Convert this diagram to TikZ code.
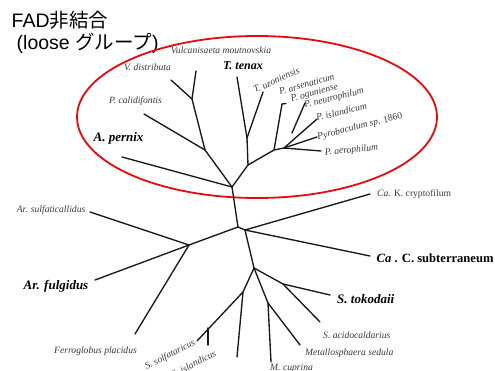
\documentclass[tikz,border=0pt]{standalone}
\usepackage{fontspec}
\setmainfont{Liberation Serif}
\newfontfamily\titlefont{Liberation Sans}
\newfontfamily\jpfont{Noto Sans CJK JP}
\definecolor{labgray}{RGB}{55,55,70}
\definecolor{ovalred}{RGB}{230,10,10}
\tikzset{
  br/.style={line width=1.35pt, black!90, line cap=round},
  sm/.style={font=\fontsize{9.6}{11}\selectfont\itshape, text=labgray, inner sep=0pt},
  big/.style={font=\fontsize{13}{15}\selectfont\bfseries\itshape, text=black, inner sep=0pt},
  ttl/.style={font=\titlefont\fontsize{19.5}{22}\selectfont, inner sep=0pt, anchor=base west},
}
\begin{document}
\begin{tikzpicture}[x=1pt,y=-1pt]
\useasboundingbox (0,0) rectangle (495,371);
\clip (0,0) rectangle (495,371);

% title
\node[ttl] (t1) at (11.5,27.3) {FAD{\jpfont 非結合}};
\node[ttl] (t2) at (16.5,50) {(loose {\jpfont グループ})};

% oval
\draw[ovalred, line width=1.8pt] (257,117) ellipse [x radius=180, y radius=81];

% ---------- coordinates: upper clade
\coordinate (R1) at (232,187);
\coordinate (N1) at (205,150);
\coordinate (eCal) at (144,114);
\coordinate (N2) at (192,99);
\coordinate (eVdis) at (171,80);
\coordinate (eVmou) at (196,71);
\coordinate (ePer) at (122,157);
\coordinate (N3) at (248,165);
\coordinate (N4) at (247,138);
\coordinate (eTen) at (237,77);
\coordinate (eUzo) at (263,92);
\coordinate (N5) at (274,150);
\coordinate (eArs) at (282,104);
\coordinate (eOgu) at (286,103.5);
\coordinate (N6) at (284,148);
\coordinate (eAer) at (321,151);
\coordinate (ePyr) at (317,137);
\coordinate (N7) at (292,133);
\coordinate (eNeu) at (305,103);
\coordinate (eIsl) at (317,119);

% ---------- coordinates: lower part
\coordinate (R0) at (238,227);
\coordinate (R2) at (245,230);
\coordinate (eCaK) at (370,194);
\coordinate (eCaC) at (370,256);
\coordinate (L1) at (189,245);
\coordinate (eSul) at (90,212);
\coordinate (eFul) at (95,280);
\coordinate (eFer) at (135,334);
\coordinate (R3) at (254,268);
\coordinate (S1) at (243,292);
\coordinate (S2) at (208,328);
\coordinate (eSol) at (197,341);
\coordinate (eIsd) at (208,345);
\coordinate (eS1b) at (237,357);
\coordinate (T1) at (283,284);
\coordinate (eTok) at (330,295);
\coordinate (eAci) at (320,322);
\coordinate (M1) at (268,303);
\coordinate (eMcu) at (271,362);
\coordinate (eMse) at (300,345);

% ---------- branches
\draw[br] (R1) -- (ePer);
\draw[br] (R1) -- (N1);
\draw[br] (N1) -- (eCal);
\draw[br] (N1) -- (N2);
\draw[br] (N2) -- (eVdis);
\draw[br] (N2) -- (eVmou);
\draw[br] (R1) -- (N3);
\draw[br] (N3) -- (N4);
\draw[br] (N4) -- (eTen);
\draw[br] (N4) -- (eUzo);
\draw[br] (N3) -- (N5);
\draw[br] (N5) -- (eArs);
\draw[br] (eArs) -- (eOgu);
\draw[br] (N5) -- (N6);
\draw[br] (N6) -- (eAer);
\draw[br] (N6) -- (ePyr);
\draw[br] (N6) -- (eIsl);
\draw[br] (N7) -- (eNeu);

\draw[br] (R1) -- (R0);
\draw[br] (R0) -- (L1);
\draw[br] (L1) -- (eSul);
\draw[br] (L1) -- (eFul);
\draw[br] (L1) -- (eFer);
\draw[br] (R0) -- (R2);
\draw[br] (R2) -- (eCaK);
\draw[br] (R2) -- (eCaC);
\draw[br] (R2) -- (R3);
\draw[br] (R3) -- (S1);
\draw[br] (S1) -- (eSol);
\draw[br] (S2) -- (eIsd);
\draw[br] (S1) -- (eS1b);
\draw[br] (R3) -- (T1);
\draw[br] (T1) -- (eTok);
\draw[br] (T1) -- (eAci);
\draw[br] (R3) -- (M1);
\draw[br] (M1) -- (eMcu);
\draw[br] (M1) -- (eMse);

% ---------- labels upper
\node[sm, anchor=base] (lVmou) at (221,54) {Vulcanisaeta moutnovskia};
\node[big, font=\fontsize{12}{14}\selectfont\bfseries\itshape, anchor=base] (lTen) at (243,70) {T. tenax};
\node[sm, anchor=base] (lVdis) at (147.5,71) {V. distributa};
\node[sm, anchor=base] (lCal) at (135.5,104) {P. calidifontis};
\node[big, anchor=base] (lPer) at (118.5,142) {A. pernix};
\node[sm, anchor=base west, rotate=24] (lUzo) at (255,93) {T. uzoniensis};
\node[sm, anchor=base west, rotate=16] (lArs) at (280,95) {P. arsenaticum};
\node[sm, anchor=base west, rotate=15] (lOgu) at (291.5,101.5) {P. oguniense};
\node[sm, anchor=base west, rotate=14] (lNeu) at (305,108) {P. neutrophilum};
\node[sm, anchor=base west, rotate=14] (lIsl) at (317,121) {P. islandicum};
\node[sm, anchor=base west, rotate=14] (lPyr) at (318,139.5) {Pyrobaculum sp. \upshape 1860};
\node[sm, anchor=base west, rotate=6] (lAer) at (325,155.5) {P. aerophilum};

% ---------- labels lower
\node[sm, anchor=base west, font=\fontsize{9.6}{11}\selectfont] (lCaK) at (377,196.5) {\textit{Ca.} K. cryptofilum};
\node[big, anchor=base west, font=\fontsize{12.6}{15}\selectfont\bfseries] (lCaC) at (376.5,262) {\textit{Ca} . C. subterraneum};
\node[sm, anchor=base east] (lSul) at (85.5,212.5) {Ar. sulfaticallidus};
\node[big, anchor=base east] (lFul) at (88.5,290) {Ar. fulgidus};
\node[sm, anchor=base east] (lFer) at (137,353.5) {Ferroglobus placidus};
\node[sm, anchor=base east, rotate=27] (lSol) at (196,344.5) {S. solfataricus};
\node[sm, anchor=base east, rotate=27] (lIsd) at (217,355.5) {S. islandicus};
\node[sm, anchor=base west] (lMcu) at (270,370) {M. cuprina};
\node[big, anchor=base west] (lTok) at (337,303) {S. tokodaii};
\node[sm, anchor=base west] (lAci) at (323,338.5) {S. acidocaldarius};
\node[sm, anchor=base west] (lMse) at (305,355) {Metallosphaera sedula};
\end{tikzpicture}
\end{document}
